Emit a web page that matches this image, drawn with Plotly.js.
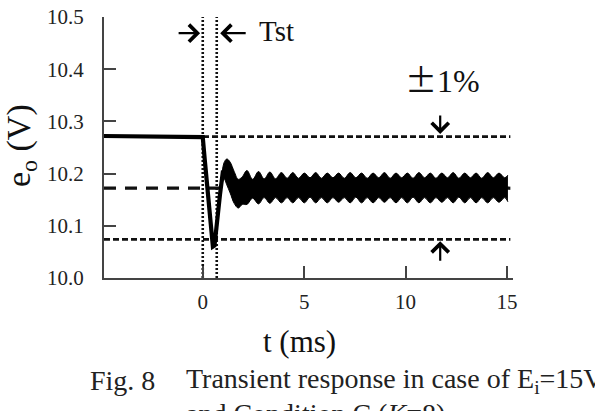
<!DOCTYPE html>
<html>
<head>
<meta charset="utf-8">
<script src="https://cdn.plot.ly/plotly-3.0.1.min.js"></script>
<style>
  html, body { margin: 0; padding: 0; background: #fff; }
  #chart { width: 595px; height: 411px; }
</style>
</head>
<body>
<div id="chart"></div>
<script>
// ---------- data ----------
const xRange = [-4.87, 15.3];
const yRange = [10.0, 10.5];
const xTickVals = [0, 5, 10, 15];
const xTickText = ['0', '5', '10', '15'];
const yTickVals = [10.0, 10.1, 10.2, 10.3, 10.4, 10.5];
const yTickText = ['10.0', '10.1', '10.2', '10.3', '10.4', '10.5'];

// ±1% band reference levels (V) and their extent (ms)
const refT = [-4.87, 15.17];
const levelUpper = 10.271;
const levelMid = 10.172;
const levelLower = 10.074;

// settling time markers (ms)
const tstStart = 0.0;
const tstEnd = 0.69;

// output voltage before the step and the initial transient
const transT = [-4.87, 0.0, 0.10, 0.25, 0.40, 0.50, 0.58, 0.70, 0.85, 1.00];
const transV = [10.272, 10.270, 10.226, 10.160, 10.092, 10.060, 10.062, 10.110, 10.160, 10.206];

// ripple band envelope after the transient
const bandT = [0.95, 1.05, 1.19, 1.35, 1.55, 1.75, 1.95,
  2.18, 2.46, 2.75, 3.03, 3.31, 3.59, 3.88, 4.16, 4.44, 4.72,
  5.01, 5.29, 5.57, 5.85, 6.14, 6.42, 6.70, 6.98, 7.27, 7.55,
  7.83, 8.11, 8.40, 8.68, 8.96, 9.24, 9.53, 9.81, 10.09, 10.37,
  10.66, 10.94, 11.22, 11.50, 11.79, 12.07, 12.35, 12.63, 12.92, 13.20,
  13.48, 13.76, 14.05, 14.33, 14.61, 14.89, 15.05];
const bandUpper = [10.200, 10.221, 10.228, 10.222, 10.204, 10.189, 10.194,
  10.206, 10.189, 10.204, 10.190, 10.203, 10.190, 10.202, 10.191, 10.202, 10.191,
  10.201, 10.192, 10.202, 10.191, 10.201, 10.192, 10.201, 10.191, 10.202, 10.192,
  10.201, 10.191, 10.201, 10.192, 10.202, 10.191, 10.201, 10.192, 10.201, 10.191,
  10.202, 10.192, 10.201, 10.191, 10.201, 10.192, 10.202, 10.191, 10.201, 10.192,
  10.201, 10.191, 10.202, 10.192, 10.201, 10.192, 10.197];
const bandLower = [10.180, 10.190, 10.178, 10.163, 10.143, 10.134, 10.141,
  10.141, 10.153, 10.142, 10.154, 10.143, 10.154, 10.144, 10.154, 10.144, 10.154,
  10.144, 10.155, 10.144, 10.154, 10.144, 10.154, 10.145, 10.154, 10.144, 10.155,
  10.144, 10.154, 10.144, 10.154, 10.145, 10.154, 10.144, 10.154, 10.144, 10.155,
  10.144, 10.154, 10.144, 10.154, 10.145, 10.154, 10.144, 10.155, 10.144, 10.154,
  10.144, 10.154, 10.144, 10.154, 10.145, 10.154, 10.146];

// ---------- layout geometry ----------
const W = 595, H = 411;
const M = { l: 104, r: 82, t: 17, b: 133 };
const plotW = W - M.l - M.r, plotH = H - M.t - M.b;
const px = v => (v - M.l) / plotW;         // page px -> paper x
const py = v => (M.t + plotH - v) / plotH; // page px -> paper y

const serif = '"Liberation Serif", "Times New Roman", Times, serif';
const ink = '#111';

const traces = [
  { x: refT, y: [levelUpper, levelUpper], mode: 'lines',
    line: { color: ink, width: 2.8, dash: '6px,3px' } },
  { x: refT, y: [levelLower, levelLower], mode: 'lines',
    line: { color: ink, width: 2.8, dash: '6px,3px' } },
  { x: refT, y: [levelMid, levelMid], mode: 'lines',
    line: { color: ink, width: 3.2, dash: '12px,9px' } },
  { x: [tstStart, tstStart], y: yRange, mode: 'lines',
    line: { color: ink, width: 2.6, dash: '2px,2px' } },
  { x: [tstEnd, tstEnd], y: yRange, mode: 'lines',
    line: { color: ink, width: 2.6, dash: '2px,2px' } },
  { x: bandT, y: bandLower, mode: 'lines',
    line: { color: '#000', width: 1, shape: 'spline', smoothing: 1 } },
  { x: bandT, y: bandUpper, mode: 'lines', fill: 'tonexty', fillcolor: '#000',
    line: { color: '#000', width: 1, shape: 'spline', smoothing: 1 } },
  { x: transT, y: transV, mode: 'lines',
    line: { color: '#000', width: 4.2 } }
];

const tickFont = { family: serif, size: 21, color: '#222' };
const axisCommon = {
  showline: true, linecolor: '#444', linewidth: 2,
  ticks: 'inside', ticklen: 12, tickwidth: 2, tickcolor: '#444',
  showgrid: false, zeroline: false
};

const arrowStyle = { showarrow: true, arrowhead: 4, arrowsize: 1.5, arrowwidth: 2.2,
  arrowcolor: '#000', standoff: 0, text: '' };

const annotations = [
  // axis titles
  { xref: 'paper', yref: 'paper', x: px(299), y: py(341), xanchor: 'center', yanchor: 'middle',
    text: 't (ms)', showarrow: false, font: { family: serif, size: 31, color: '#111' } },
  { xref: 'paper', yref: 'paper', x: px(21), y: py(146), xanchor: 'center', yanchor: 'middle',
    textangle: -90, text: 'e<sub>o</sub> (V)', showarrow: false,
    font: { family: serif, size: 34, color: '#111' } },
  // Tst label and arrows
  { xref: 'paper', yref: 'paper', x: px(257), y: py(31), xanchor: 'left', yanchor: 'middle',
    text: 'Tst', showarrow: false, font: { family: serif, size: 29, color: '#111' } },
  Object.assign({ xref: 'x', yref: 'y', x: -0.13, y: 10.469, ax: -23, ay: 0 }, arrowStyle),
  Object.assign({ xref: 'x', yref: 'y', x: 0.86, y: 10.469, ax: 27, ay: 0 }, arrowStyle),
  // ±1% label and arrows
  { xref: 'paper', yref: 'paper', x: px(442), y: py(78), xanchor: 'center', yanchor: 'middle',
    text: '<span style="font-family:Noto Sans CJK JP">±</span>1%', showarrow: false,
    font: { family: serif, size: 32, color: '#111' } },
  Object.assign({ xref: 'x', yref: 'y', x: 11.71, y: 10.276, ax: 0, ay: -20 }, arrowStyle),
  Object.assign({ xref: 'x', yref: 'y', x: 11.71, y: 10.0705, ax: 0, ay: 21 }, arrowStyle),
  // caption
  { xref: 'paper', yref: 'paper', x: px(88), y: py(380), xanchor: 'left', yanchor: 'middle',
    text: 'Fig. 8', showarrow: false, font: { family: serif, size: 28, color: '#222' } },
  { xref: 'paper', yref: 'paper', x: px(184), y: py(380), xanchor: 'left', yanchor: 'middle',
    text: 'Transient response in case of E<sub>i</sub>=15V', showarrow: false,
    font: { family: serif, size: 28, color: '#222' } },
  { xref: 'paper', yref: 'paper', x: px(184), y: py(413), xanchor: 'left', yanchor: 'middle',
    text: 'and Condition C (<i>K</i>=8)', showarrow: false,
    font: { family: serif, size: 28, color: '#222' } }
];

const layout = {
  width: W, height: H,
  margin: M,
  font: { family: serif, color: '#222' },
  paper_bgcolor: '#fff', plot_bgcolor: '#fff',
  showlegend: false,
  xaxis: Object.assign({}, axisCommon, {
    range: xRange, tickvals: xTickVals, ticktext: xTickText, ticklabelstandoff: 4,
    tickfont: Object.assign({}, tickFont)
  }),
  yaxis: Object.assign({}, axisCommon, {
    range: yRange, tickvals: yTickVals, ticktext: yTickText, ticklabelstandoff: 14,
    tickfont: Object.assign({}, tickFont)
  }),
  annotations: annotations
};

Plotly.newPlot('chart', traces, layout, { staticPlot: true, displayModeBar: false });
</script>
</body>
</html>
